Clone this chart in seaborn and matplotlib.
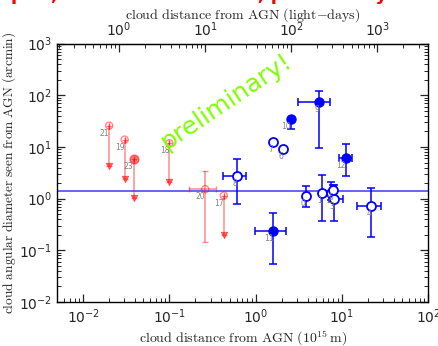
import numpy as np
import matplotlib
matplotlib.use("Agg")
import matplotlib.pyplot as plt
import seaborn as sns
import pandas as pd

# ---------------------------------------------------------------
# data (x in 1e15 m, y in arcmin)
blue_id = [0, 1, 2, 3, 4, 5, 6, 7, 8, 9, 10, 11, 12]
blue_x = [3.82, 5.86, 7.45, 8.13, 21.8, 7.9, 2.10, 1.60, 0.605, 5.50, 2.58, 1.60, 11.1]
blue_x_lo = [3.82, 5.86, 7.45, 7.02, 14.9, 7.9, 2.10, 1.60, 0.417, 3.13, 2.58, 0.98, 9.29]
blue_x_hi = [3.82, 5.86, 7.45, 10.4, 28.8, 7.9, 2.10, 1.60, 0.776, 7.31, 2.58, 2.28, 13.2]
blue_y = [1.13, 1.31, 1.31, 0.98, 0.736, 1.48, 9.19, 12.4, 2.76, 75.5, 35.4, 0.242, 6.07]
blue_y_lo = [0.70, 0.37, 0.95, 0.37, 0.182, 1.30, 9.19, 12.4, 0.79, 9.73, 22.1, 0.0548, 2.80]
blue_y_hi = [1.75, 2.85, 2.14, 1.85, 1.62, 1.85, 9.19, 12.4, 5.97, 121.6, 35.4, 0.525, 11.3]
blue_filled = [False, False, False, False, False, False, False, False, False, True, True, True, True]

red_id = [17, 18, 19, 20, 21, 23]
red_x = [0.428, 0.100, 0.0302, 0.260, 0.020, 0.0383]
red_x_lo = [0.428, 0.100, 0.0302, 0.170, 0.020, 0.0383]
red_x_hi = [0.428, 0.100, 0.0302, 0.351, 0.020, 0.0383]
red_y = [1.15, 11.8, 13.9, 1.53, 25.9, 5.89]
red_y_lo = [0.20, 2.14, 2.42, 0.144, 4.37, 1.05]
red_y_hi = [1.15, 11.8, 13.9, 3.50, 25.9, 5.89]
red_upper = [True, True, True, False, True, True]
red_filled = [False, False, False, False, False, True]

ref_level = 1.42          # horizontal reference line (arcmin)
light_day = 0.0259        # 1 light-day in 1e15 m

sns.set_style("ticks")
plt.rcParams["font.family"] = ["DejaVu Sans"]

fig = plt.figure(figsize=(4.39, 3.46), dpi=100)
ax = fig.add_axes([0.1305, 0.127, 0.8445, 0.747])

blue = pd.DataFrame({"id": blue_id, "x": blue_x, "y": blue_y,
                     "xlo": blue_x_lo, "xhi": blue_x_hi,
                     "ylo": blue_y_lo, "yhi": blue_y_hi, "filled": blue_filled})
red = pd.DataFrame({"id": red_id, "x": red_x, "y": red_y,
                    "xlo": red_x_lo, "xhi": red_x_hi,
                    "ylo": red_y_lo, "yhi": red_y_hi,
                    "upper": red_upper, "filled": red_filled})

ax.axhline(ref_level, color="#3b3bff", lw=1.1, zorder=1)

# ---------------------------------------------------------------
# blue clouds
ax.errorbar(blue.x, blue.y,
            xerr=[blue.x - blue.xlo, blue.xhi - blue.x],
            yerr=[blue.y - blue.ylo, blue.yhi - blue.y],
            fmt="none", ecolor="blue", elinewidth=1.1, capsize=3, capthick=1.1, zorder=2)
sns.scatterplot(data=blue[~blue.filled], x="x", y="y", ax=ax, s=42, marker="o",
                facecolor="white", edgecolor="blue", linewidth=1.3, zorder=3)
sns.scatterplot(data=blue[blue.filled], x="x", y="y", ax=ax, s=42, marker="o",
                color="blue", edgecolor="blue", linewidth=1.0, zorder=3)

# ---------------------------------------------------------------
# red clouds (mostly upper limits)
ax.errorbar(red.x, red.y,
            xerr=[red.x - red.xlo, red.xhi - red.x],
            yerr=[red.y - red.ylo, red.yhi - red.y],
            fmt="none", ecolor="red", alpha=0.45, elinewidth=1.1, capsize=2.5,
            capthick=1.0, zorder=2)
sns.scatterplot(data=red[~red.filled], x="x", y="y", ax=ax, s=26, marker="o",
                facecolor="none", edgecolor="red", alpha=0.45, linewidth=1.0, zorder=3)
sns.scatterplot(data=red[red.filled], x="x", y="y", ax=ax, s=40, marker="o",
                color="red", edgecolor="red", alpha=0.5, linewidth=1.0, zorder=3)
lim = red[red.upper]
sns.scatterplot(x=lim.x, y=lim.ylo, ax=ax, s=22, marker="v", color="red",
                edgecolor="red", alpha=0.6, linewidth=0.5, zorder=3)

# number labels
for df in (blue, red):
    for _, r in df.iterrows():
        ax.annotate(str(r["id"]), (r["x"], r["y"]), xytext=(0, -5.5),
                    textcoords="offset points", ha="right", va="center",
                    fontsize=5.5, color="gray", zorder=4)

ax.set_xscale("log")
ax.set_yscale("log")
ax.set_xlim(0.005, 100)
ax.set_ylim(1e-2, 1e3)
ax.set_xlabel(r"$\mathrm{cloud\ distance\ from\ AGN\ (10^{15}\,m)}$",
              math_fontfamily="cm", fontsize=10, labelpad=2)
ax.set_ylabel(r"$\mathrm{cloud\ angular\ diameter\ seen\ from\ AGN\ (arcmin)}$",
              math_fontfamily="cm", fontsize=9.6, labelpad=1)

ax.tick_params(which="both", direction="in", top=False, right=True, labelsize=10)
ax.tick_params(which="major", length=6, width=0.9)
ax.tick_params(which="minor", length=3, width=0.7)
for sp in ax.spines.values():
    sp.set_visible(True)
    sp.set_linewidth(1.0)
    sp.set_color("black")

sec = ax.secondary_xaxis("top", functions=(lambda v: v / light_day, lambda v: v * light_day))
sec.set_xscale("log")
sec.tick_params(which="both", direction="in", labelsize=10)
sec.tick_params(which="major", length=6, width=0.9)
sec.tick_params(which="minor", length=3, width=0.7)
sec.set_xlabel(r"$\mathrm{cloud\ distance\ from\ AGN\ (light{-}days)}$",
               math_fontfamily="cm", fontsize=10, labelpad=1)

ax.text(0.455, 0.775, "preliminary!", transform=ax.transAxes, rotation=34,
        fontsize=18, color="#80ff00", ha="center", va="center", zorder=5)

# red headline that runs off the top of the page: only its lowest pixels show
head = fig.add_axes([0, 1 - 4 / 346, 1, 4 / 346])
head.axis("off")
head.text(0.025, 0.0, "plot, not for distribution, preliminary study", color="red",
          fontsize=13, fontweight="bold", va="bottom", ha="left",
          transform=head.transAxes, clip_on=True)

fig.savefig("out.png", dpi=100)
